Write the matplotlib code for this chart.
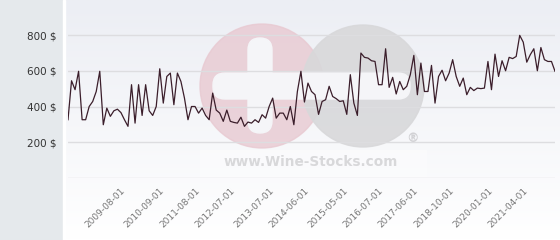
import numpy as np
import matplotlib.pyplot as plt
from matplotlib.patches import Circle, FancyBboxPatch, Rectangle

# monthly prices
prices = [
    326, 544, 494, 597, 326, 326, 400, 428, 484, 597, 298, 391, 345, 376, 385, 366, 326, 289, 522, 307,
    522, 350, 522, 376, 350, 400, 611, 419, 568, 587, 410, 587, 540, 447, 326, 400, 400, 363,
    391, 350, 326, 475, 380, 363, 317, 380, 317, 311, 307, 340, 289, 313, 307, 326, 311, 354, 335,
    400, 447, 335, 363, 363, 326, 400, 298, 484, 597, 425, 531, 484, 466, 356, 428, 438, 513, 456, 444,
    428, 432, 356, 578, 419, 350, 699, 675, 671, 656, 652, 522, 522, 723, 507, 563, 470, 540, 494, 513, 578,
    686, 466, 643, 484, 484, 630, 419, 568, 603, 544, 587, 662, 568, 513, 559, 466, 507, 489, 503, 500,
    503, 652, 494, 693, 568, 656, 600, 675, 668, 680, 798, 760, 648, 690, 723, 600, 730, 662, 652, 652, 597,
]
tick_labels = ['2009-08-01', '2010-09-01', '2011-08-01', '2012-07-01', '2013-07-01', '2014-06-01',
               '2015-05-01', '2016-07-01', '2017-06-01', '2018-10-01', '2020-01-01', '2021-04-01']
tick_idx = [15, 26, 36, 46, 57, 67, 78, 88, 98, 108, 119, 129]
y_ticks = [0, 200, 400, 600, 800]
y_labels = ['', '200 $', '400 $', '600 $', '800 $']

W, H = 560, 240
fig = plt.figure(figsize=(W / 100, H / 100), dpi=100)

# background: grey side panel + soft gradient, watermark
bg = fig.add_axes([0, 0, 1, 1], zorder=0)
bg.set_xlim(0, W)
bg.set_ylim(H, 0)
bg.axis('off')
grad = np.linspace(0, 1, 100)[:, None]
bg.imshow(grad, cmap=plt.matplotlib.colors.LinearSegmentedColormap.from_list('g', ['#eceef4', '#ffffff']),
          extent=(63, W, H, 0), aspect='auto')
bg.add_patch(Rectangle((0, 0), 63, H, color='#e5e9ec'))
bg.add_patch(Rectangle((63, 0), 1.5, H, color='#ffffff'))

bg.add_patch(Circle((262, 86), 62, color='#e8c9d1', alpha=0.8))
bg.add_patch(Circle((363, 86), 61, color='#d8d8da', alpha=0.9))
bg.add_patch(FancyBboxPatch((213, 73), 197, 26, boxstyle='round,pad=0,rounding_size=12', color='#f5f5f8'))
bg.add_patch(FancyBboxPatch((248, 38), 24, 95, boxstyle='round,pad=0,rounding_size=12', color='#f5f5f8'))
bg.add_patch(Rectangle((200, 150), 226, 26, color='#ffffff', alpha=0.3))
bg.text(311, 162, 'www.Wine-Stocks.com', ha='center', va='center', fontsize=9.8,
        fontweight='bold', color='#d8d8da')
bg.text(412, 139, '®', ha='center', va='center', fontsize=9, fontweight='bold', color='#d2d2d5')

ax = fig.add_axes([68 / W, 1 - 178 / H, (555 - 68) / W, (178 - 25) / H], zorder=1)
ax.patch.set_alpha(0)
x = np.arange(len(prices))
ax.plot(x, prices, color='#3b1e2b', lw=0.9)
ax.set_xlim(0, len(prices) - 1)
ax.set_ylim(0, (178 - 25) / 35.75 * 200)

ax.set_yticks(y_ticks)
ax.set_yticklabels(y_labels, fontsize=7.5, color='#333333')
ax.set_xticks(tick_idx)
ax.set_xticklabels(tick_labels, rotation=45, ha='right', rotation_mode='anchor',
                   fontsize=6.5, color='#777777')
ax.tick_params(axis='y', length=0, pad=8)
ax.tick_params(axis='x', length=0, pad=6)
ax.grid(axis='y', color='#dddde0', lw=1)
ax.grid(axis='x', visible=False)
for s in ax.spines.values():
    s.set_visible(False)

fig.savefig('out.png', dpi=100)
